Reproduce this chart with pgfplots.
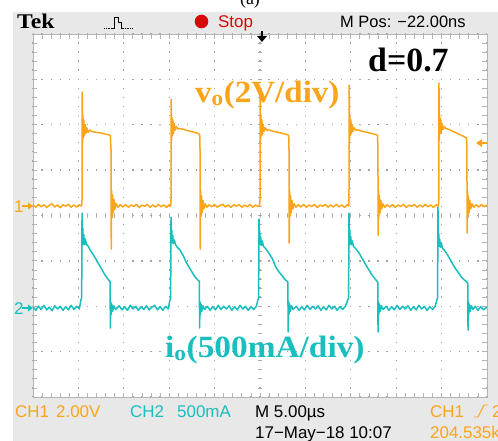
\documentclass[border=0pt]{standalone}
\usepackage{pgfplots}
\pgfplotsset{compat=1.18}
\usepackage{pgfplotstable}
\usepackage{fontspec}
\setmainfont{Liberation Serif}
\setsansfont{Liberation Sans}
\definecolor{scorange}{RGB}{250,165,25}
\definecolor{sccyan}{RGB}{25,190,190}
\definecolor{scgray}{RGB}{232,232,232}
\definecolor{gridgray}{RGB}{180,180,180}
\definecolor{dotgray}{RGB}{165,165,165}
\definecolor{scred}{RGB}{215,10,10}

% CH1: output voltage v_o (V), time in microseconds
\pgfplotstableread{
t v
0 0.05
0.3 -0.05
0.6 0.08
0.9 -0.03
1.2 0.06
1.5 -0.06
1.8 0.04
2.1 0.1
2.4 -0.04
2.7 0.05
3.0 -0.07
3.3 0.06
3.6 0.0
3.9 0.08
4.2 -0.05
4.5 0.05
4.8 -0.04
5.1 0.06
5.36 0.0
5.40 0.3
5.42 5.03
5.46 2.8
5.50 4.0
5.55 3.0
5.60 3.8
5.66 3.1
5.73 3.6
5.82 3.2
5.92 3.45
6.05 3.25
6.25 3.35
6.6 3.28
7.0 3.25
7.5 3.22
8.0 3.17
8.3 3.15
8.52 3.1
8.60 2.4
8.62 -1.9
8.66 0.7
8.71 -0.5
8.76 0.5
8.83 -0.3
8.92 0.3
9.02 -0.15
9.15 0.12
9.35 -0.05
9.6 0.06
9.9 -0.04
10.2 0.07
10.5 -0.05
10.8 0.05
11.1 -0.02
11.4 0.08
11.7 -0.06
12.0 0.04
12.3 0.0
12.6 0.07
12.9 -0.05
13.2 0.05
13.5 -0.04
13.8 0.08
14.1 -0.03
14.4 0.05
14.7 -0.06
15.0 0.06
15.16 0.0
15.20 0.3
15.22 4.71
15.26 2.9
15.30 3.9
15.35 3.1
15.41 3.8
15.47 3.2
15.55 3.65
15.65 3.35
15.78 3.5
15.95 3.4
16.2 3.42
16.6 3.38
17.0 3.33
17.5 3.28
17.9 3.24
18.2 3.2
18.36 3.15
18.40 2.4
18.42 -1.9
18.46 0.7
18.51 -0.45
18.56 0.45
18.63 -0.3
18.72 0.25
18.82 -0.12
18.95 0.1
19.15 -0.05
19.4 0.06
19.7 -0.03
20.0 0.07
20.3 -0.05
20.6 0.04
20.9 0.08
21.2 -0.04
21.5 0.05
21.8 -0.06
22.1 0.06
22.4 0.0
22.7 0.07
23.0 -0.05
23.3 0.04
23.6 -0.03
23.9 0.08
24.2 -0.05
24.5 0.05
24.8 -0.02
24.96 0.03
25.00 0.3
25.02 5.2
25.06 2.9
25.10 4.0
25.15 3.1
25.21 3.8
25.27 3.15
25.35 3.6
25.45 3.3
25.58 3.45
25.75 3.35
26.0 3.36
26.4 3.3
26.8 3.27
27.3 3.22
27.7 3.18
28.0 3.15
28.16 3.12
28.20 2.4
28.22 -1.63
28.26 0.7
28.31 -0.45
28.36 0.45
28.43 -0.3
28.52 0.25
28.62 -0.12
28.75 0.1
28.95 -0.05
29.2 0.06
29.5 -0.04
29.8 0.07
30.1 -0.05
30.4 0.05
30.7 -0.02
31.0 0.08
31.3 -0.06
31.6 0.04
31.9 0.0
32.2 0.07
32.5 -0.05
32.8 0.05
33.1 -0.04
33.4 0.08
33.7 -0.03
34.0 0.05
34.3 -0.06
34.6 0.06
34.76 0.0
34.80 0.3
34.82 5.33
34.86 2.9
34.90 4.0
34.95 3.1
35.01 3.8
35.07 3.2
35.15 3.6
35.25 3.3
35.38 3.45
35.55 3.35
35.8 3.36
36.2 3.3
36.6 3.27
37.1 3.22
37.5 3.18
37.8 3.15
37.95 3.12
37.99 2.4
38.01 -1.28
38.05 0.7
38.10 -0.45
38.15 0.45
38.22 -0.3
38.31 0.25
38.41 -0.12
38.54 0.1
38.74 -0.05
39.0 0.06
39.3 -0.04
39.6 0.07
39.9 -0.05
40.2 0.05
40.5 -0.02
40.8 0.08
41.1 -0.06
41.4 0.04
41.7 0.0
42.0 0.07
42.3 -0.05
42.6 0.05
42.9 -0.04
43.2 0.08
43.5 -0.03
43.8 0.05
44.1 -0.06
44.4 0.06
44.65 0.0
44.69 0.3
44.71 5.42
44.75 2.9
44.79 4.0
44.84 3.2
44.90 3.85
44.96 3.25
45.04 3.65
45.14 3.38
45.27 3.5
45.45 3.42
45.7 3.4
46.1 3.32
46.5 3.25
47.0 3.15
47.4 3.08
47.65 3.02
47.76 3.0
47.79 2.4
47.81 -1.19
47.85 0.7
47.90 -0.45
47.95 0.45
48.02 -0.3
48.11 0.25
48.21 -0.12
48.34 0.1
48.54 -0.05
48.8 0.06
49.1 -0.04
49.4 0.07
49.7 -0.03
49.95 0.05
}\chone

% CH2: output current i_o (mA)
\pgfplotstableread{
t i
0 10
0.3 -25
0.6 20
0.9 -15
1.2 30
1.5 -20
1.8 10
2.1 -30
2.4 25
2.7 -10
3.0 20
3.3 -25
3.6 15
3.9 -20
4.2 30
4.5 -15
4.8 20
5.1 -10
5.28 90
5.36 110
5.40 1046
5.44 760
5.48 880
5.53 700
5.59 810
5.67 700
5.77 760
5.89 700
6.09 680
6.29 640
6.69 580
7.04 520
7.39 460
7.69 405
7.99 355
8.29 315
8.49 290
8.52 -220
8.56 70
8.61 -70
8.67 45
8.76 -35
8.89 25
9.1 -15
9.5 25
9.8 -20
10.1 15
10.4 -25
10.7 30
11.0 -10
11.3 20
11.6 -25
11.9 15
12.2 -15
12.5 25
12.8 -20
13.1 10
13.4 30
13.7 -20
14.0 15
14.3 -25
14.6 20
14.9 -10
15.08 90
15.16 110
15.20 1002
15.24 740
15.28 860
15.33 720
15.39 800
15.47 710
15.57 750
15.69 700
15.89 670
16.19 640
16.59 570
16.89 500
17.19 450
17.49 400
17.79 350
18.09 315
18.32 295
18.35 -220
18.39 70
18.44 -70
18.50 45
18.59 -35
18.72 25
18.9 -15
19.2 20
19.5 -25
19.8 15
20.1 -20
20.4 30
20.7 -15
21.0 20
21.3 -10
21.6 25
21.9 -25
22.2 15
22.5 -20
22.8 30
23.1 -10
23.4 20
23.7 -25
24.0 15
24.3 -15
24.6 20
24.77 90
24.85 110
24.89 980
24.93 720
24.97 850
25.02 700
25.08 780
25.16 690
25.26 740
25.38 680
25.58 660
25.98 605
26.38 540
26.75 450
27.08 400
27.38 363
27.7 320
27.93 300
28.07 286
28.10 -264
28.14 70
28.19 -70
28.25 45
28.34 -35
28.47 25
28.65 -15
29.0 20
29.3 -25
29.6 15
29.9 -20
30.2 30
30.5 -15
30.8 20
31.1 -10
31.4 25
31.7 -25
32.0 15
32.3 -20
32.6 30
32.9 -10
33.2 20
33.5 -25
33.8 15
34.1 -15
34.4 20
34.68 90
34.76 110
34.80 1046
34.84 740
34.88 870
34.93 700
34.99 790
35.07 700
35.17 740
35.29 680
35.49 660
35.89 610
36.29 540
36.69 470
37.0 420
37.3 370
37.6 330
37.85 300
37.97 286
38.00 -264
38.04 70
38.09 -70
38.15 45
38.24 -35
38.37 25
38.55 -15
38.9 20
39.2 -25
39.5 15
39.8 -20
40.1 30
40.4 -15
40.7 20
41.0 -10
41.3 25
41.6 -25
41.9 15
42.2 -20
42.5 30
42.8 -10
43.1 20
43.4 -25
43.7 15
44.0 -15
44.3 20
44.48 90
44.56 110
44.60 1112
44.64 720
44.68 830
44.73 680
44.79 760
44.87 670
44.97 720
45.09 660
45.29 640
45.69 580
46.09 510
46.49 440
46.85 390
47.2 340
47.5 310
47.75 290
47.88 275
47.91 -242
47.95 70
48.00 -70
48.06 45
48.15 -35
48.28 25
48.46 -15
48.7 20
49.0 -25
49.3 15
49.6 -20
49.99 10
}\chtwo

\begin{document}
\begin{tikzpicture}
\useasboundingbox (0,0) rectangle (498bp,441bp);
\clip (0,0) rectangle (498bp,441bp);
\begin{scope}[x=1bp,y=1bp]
  \fill[white] (0,0) rectangle (498,441);
  \fill[scgray] (13,0) rectangle (498,429);
  \fill[white] (33,44) rectangle (487,407);
  % centre graticule ticks
  \foreach \k in {1,...,49} {\draw[gridgray,line width=0.8] (33+9.08*\k,223.2) -- (33+9.08*\k,227.8);}
  \foreach \k in {1,...,39} {\draw[gridgray,line width=0.8] (257.7,44+9.075*\k) -- (262.3,44+9.075*\k);}
\end{scope}

\begin{axis}[at={(33bp,44bp)}, anchor=south west, scale only axis,
  width=454bp, height=363bp,
  xmin=0, xmax=50, ymin=0, ymax=8,
  axis line style={draw=gridgray, line width=0.9bp},
  xtick={0,5,...,50}, ytick={0,1,...,8},
  minor x tick num=4, minor y tick num=4,
  xticklabels={}, yticklabels={},
  tick align=inside, major tick length=4.5bp, minor tick length=4.5bp,
  every tick/.style={draw=gridgray, line width=0.8bp},
  grid=major,
  major grid style={draw=dotgray, line width=1.3bp, dash pattern=on 1.3bp off 7.78bp, dash phase=0.65bp},
  clip=true]
\addplot[scorange, line width=1.5bp, line join=round] table[x=t, y expr=\thisrow{v}/2+4.207] {\chone};
\addplot[sccyan, line width=1.5bp, line join=round] table[x=t, y expr=\thisrow{i}/500+1.960] {\chtwo};
\end{axis}

\begin{scope}[x=1bp,y=1bp]
  % title (a), cut at the top
  \node[anchor=base, inner sep=0] at (250,436) {\fontsize{18}{18}\selectfont (a)};
  % top bar
  \node[anchor=base west, inner sep=0, xscale=1.13] at (17,412) {\fontsize{21}{21}\selectfont\bfseries Tek};
  \draw[black, line width=0.7, dash pattern=on 0.8 off 1.0] (104,413) -- (112,413);
  \draw[black, line width=0.8] (112,413) -- (114,413) -- (114,424) -- (118,424) -- (118,419) -- (121,419) -- (121,413) -- (123,413);
  \draw[black, line width=0.7, dash pattern=on 0.8 off 1.0] (123,413) -- (132,413);
  \fill[scred] (201.5,419.5) circle (6.8);
  \node[anchor=base west, inner sep=0, text=scred] at (218,413) {\sffamily\fontsize{17}{17}\selectfont Stop};
  \node[anchor=base west, inner sep=0] at (340,413) {\sffamily\fontsize{16.5}{16.5}\selectfont M Pos: \textminus22.00ns};
  % trigger position arrow
  \draw[black, line width=1.8] (262,410) -- (262,404);
  \fill[black] (257,405) -- (267,405) -- (262,399) -- cycle;
  % channel markers
  \node[anchor=base west, inner sep=0, text=scorange] at (14,229) {\sffamily\fontsize{17}{17}\selectfont 1};
  \draw[scorange, line width=1.1] (22,235) -- (29,235);
  \fill[scorange] (28,238.5) -- (33,235) -- (28,231.5) -- cycle;
  \node[anchor=base west, inner sep=0, text=sccyan] at (14,127) {\sffamily\fontsize{17}{17}\selectfont 2};
  \draw[sccyan, line width=1.1] (22,133) -- (29,133);
  \fill[sccyan] (28,136.5) -- (33,133) -- (28,129.5) -- cycle;
  % trigger level marker
  \fill[scorange] (476,298) -- (482,302) -- (482,294) -- cycle;
  \draw[scorange, line width=1.3] (481,298) -- (487,298);
  % annotations
  \node[anchor=base west, inner sep=0] at (368,370) {\fontsize{34}{34}\selectfont\bfseries d=0.7};
  \node[anchor=base west, inner sep=0, text=scorange, xscale=1.07] at (195,339) {\fontsize{31}{31}\selectfont\bfseries v\textsubscript{o}(2V/div)};
  \node[anchor=base west, inner sep=0, text=sccyan, xscale=1.08] at (165,84) {\fontsize{31}{31}\selectfont\bfseries i\textsubscript{o}(500mA/div)};
  % bottom status bar
  \node[anchor=base west, inner sep=0, text=scorange] at (15,24) {\sffamily\fontsize{17}{17}\selectfont CH1};
  \node[anchor=base west, inner sep=0, text=scorange] at (56,24) {\sffamily\fontsize{17}{17}\selectfont 2.00V};
  \node[anchor=base west, inner sep=0, text=sccyan] at (130,24) {\sffamily\fontsize{17}{17}\selectfont CH2};
  \node[anchor=base west, inner sep=0, text=sccyan] at (177,24) {\sffamily\fontsize{17}{17}\selectfont 500mA};
  \node[anchor=base west, inner sep=0] at (255,24) {\sffamily\fontsize{17}{17}\selectfont M 5.00µs};
  \node[anchor=base west, inner sep=0, text=scorange] at (430,24) {\sffamily\fontsize{17}{17}\selectfont CH1};
  \draw[scorange, line width=1.0] (474,24) -- (478,24) -- (484,36) -- (488,36);
  \node[anchor=base west, inner sep=0, text=scorange] at (492,24) {\sffamily\fontsize{17}{17}\selectfont 2};
  \node[anchor=base west, inner sep=0] at (255,3) {\sffamily\fontsize{17}{17}\selectfont 17\textminus May\textminus18 10:07};
  \node[anchor=base west, inner sep=0, text=scorange] at (430,3) {\sffamily\fontsize{17}{17}\selectfont 204.535kHz};
\end{scope}
\end{tikzpicture}
\end{document}
